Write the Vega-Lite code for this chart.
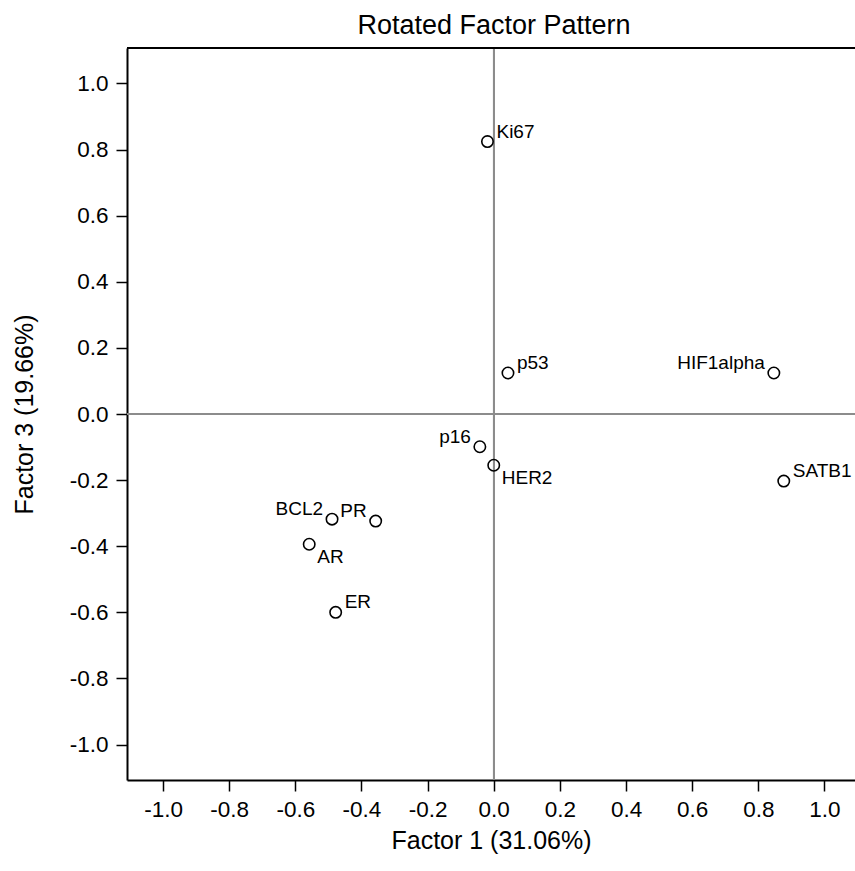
{
  "$schema": "https://vega.github.io/schema/vega-lite/v6.json",
  "width": 728,
  "height": 732,
  "autosize": "none",
  "padding": {"left": 127, "top": 48, "right": 0, "bottom": 91},
  "background": "white",
  "title": {"text": "Rotated Factor Pattern", "font": "Liberation Sans", "fontSize": 27, "fontWeight": "normal", "color": "#000000", "anchor": "middle", "baseline": "alphabetic", "offset": -14, "dx": 3},
  "config": {
    "view": {"stroke": null},
    "axis": {"grid": false, "domainColor": "#000000", "domainWidth": 2, "tickColor": "#000000", "tickWidth": 1.5, "tickSize": 11, "labelFont": "Liberation Sans", "labelFontSize": 22.5, "labelColor": "#000000", "titleFont": "Liberation Sans", "titleFontSize": 25, "titleFontWeight": "normal", "titleColor": "#000000"},
    "text": {"font": "Liberation Sans", "fontSize": 19, "color": "#000000"}
  },
  "data": {"values": [
    {"name": "Ki67", "f1": -0.019, "f3": 0.824},
    {"name": "p53", "f1": 0.043, "f3": 0.124},
    {"name": "HIF1alpha", "f1": 0.847, "f3": 0.124},
    {"name": "SATB1", "f1": 0.877, "f3": -0.203},
    {"name": "p16", "f1": -0.042, "f3": -0.099},
    {"name": "HER2", "f1": 0.0, "f3": -0.155},
    {"name": "BCL2", "f1": -0.489, "f3": -0.318},
    {"name": "PR", "f1": -0.357, "f3": -0.324},
    {"name": "AR", "f1": -0.558, "f3": -0.394},
    {"name": "ER", "f1": -0.478, "f3": -0.600}
  ]},
  "layer": [
    {"mark": {"type": "rule", "color": "#8c8c8c", "strokeWidth": 1.5}, "encoding": {"x": {"datum": 0, "type": "quantitative"}}},
    {"mark": {"type": "rule", "color": "#8c8c8c", "strokeWidth": 1.5}, "encoding": {"y": {"datum": 0, "type": "quantitative"}}},
    {"mark": {"type": "rule", "color": "#000000", "strokeWidth": 2}, "encoding": {"y": {"datum": 1.107, "type": "quantitative"}}},
    {
      "mark": {"type": "point", "shape": "circle", "filled": false, "color": "#000000", "strokeWidth": 1.6, "size": 130, "opacity": 1},
      "encoding": {
        "x": {"field": "f1", "type": "quantitative", "scale": {"domain": [-1.109, 1.0924], "nice": false, "zero": false},
              "axis": {"title": "Factor 1 (31.06%)", "values": [-1, -0.8, -0.6, -0.4, -0.2, 0, 0.2, 0.4, 0.6, 0.8, 1], "labelExpr": "replace(format(datum.value, '.1f'), '\u2212', '-')", "labelPadding": 7, "titleY": 60, "titleBaseline": "middle"}},
        "y": {"field": "f3", "type": "quantitative", "scale": {"domain": [-1.107, 1.107], "nice": false, "zero": false},
              "axis": {"title": "Factor 3 (19.66%)", "values": [-1, -0.8, -0.6, -0.4, -0.2, 0, 0.2, 0.4, 0.6, 0.8, 1], "labelExpr": "replace(format(datum.value, '.1f'), '\u2212', '-')", "labelPadding": 8, "titleX": -103, "titleBaseline": "middle"}}
      }
    },
    {
      "transform": [{"filter": {"field": "name", "oneOf": ["Ki67", "p53", "SATB1", "ER"]}}],
      "mark": {"type": "text", "align": "left", "baseline": "alphabetic", "dx": 9, "dy": -4},
      "encoding": {"x": {"field": "f1", "type": "quantitative"}, "y": {"field": "f3", "type": "quantitative"}, "text": {"field": "name"}}
    },
    {
      "transform": [{"filter": {"field": "name", "oneOf": ["HIF1alpha", "p16", "BCL2", "PR"]}}],
      "mark": {"type": "text", "align": "right", "baseline": "alphabetic", "dx": -9, "dy": -4},
      "encoding": {"x": {"field": "f1", "type": "quantitative"}, "y": {"field": "f3", "type": "quantitative"}, "text": {"field": "name"}}
    },
    {
      "transform": [{"filter": {"field": "name", "oneOf": ["HER2", "AR"]}}],
      "mark": {"type": "text", "align": "left", "baseline": "top", "dx": 8, "dy": 4},
      "encoding": {"x": {"field": "f1", "type": "quantitative"}, "y": {"field": "f3", "type": "quantitative"}, "text": {"field": "name"}}
    }
  ]
}
